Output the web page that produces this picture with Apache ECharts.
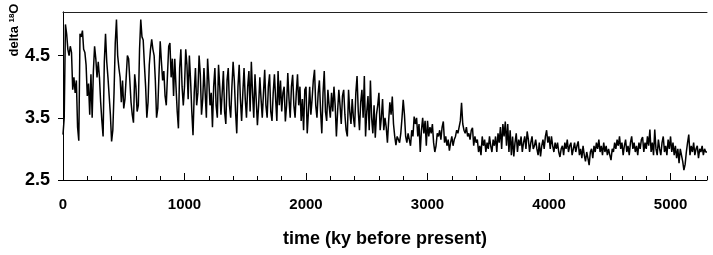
<!DOCTYPE html>
<html><head><meta charset="utf-8">
<script src="https://cdn.jsdelivr.net/npm/echarts@6/dist/echarts.min.js"></script>
<style>html,body{margin:0;padding:0;background:#fff}#c{width:713px;height:255px}</style>
</head><body><div id="c"></div>
<script>
const ageStep = 10;
const d18O_0000 = [3.23,3.5,5.0,4.85,4.6,4.5,4.65,4.55,3.95,4.15,
3.9,4.1,3.35,3.13,4.85,4.8,4.9,4.6,4.55,4.35,
3.85,4.05,3.55,4.2,3.5,4.25,4.65,4.45,4.15,4.4,
4.15,3.75,3.45,3.2,4.4,4.85,4.4,4.15,3.85,3.55,
3.12,3.3,3.9,4.7,5.08,4.5,4.3,4.15,3.75,4.1,
3.65,3.8,4.15,4.5,4.45,4.1,3.75,3.55,3.42,4.2,
4.0,3.6,3.7,4.6,5.08,4.8,4.75,4.35,4.0,3.5,
3.75,4.35,4.6,4.76,4.6,4.5,4.1,3.5,3.65,4.2,
4.73,4.4,4.1,4.25,3.85,3.7,4.2,4.65,4.7,4.15,
4.45,3.85,4.45,4.0,3.6,3.33,4.3,4.6,4.0,3.7];
const d18O_1000 = [4.0,4.6,4.35,3.8,4.5,4.1,3.6,3.22,3.9,4.3,
3.7,3.9,4.5,4.2,3.55,3.8,4.3,3.9,3.5,4.45,
4.1,3.7,3.9,3.35,4.0,4.3,3.7,3.5,4.35,4.0,
3.55,3.9,4.25,3.6,3.4,4.1,4.3,3.7,3.5,4.0,
4.4,4.1,3.6,3.25,4.0,4.35,3.8,3.45,3.9,4.3,
3.8,3.5,4.0,4.25,3.6,4.4,3.9,3.5,4.2,3.8,
3.38,3.7,4.15,3.8,3.5,3.9,4.27,3.7,3.5,4.0,
4.2,3.6,3.45,3.9,4.2,3.8,3.45,4.25,3.7,4.1,
3.6,3.9,4.0,3.44,3.7,4.22,3.8,3.5,4.0,4.19,
3.7,3.5,3.9,4.2,3.7,4.0,3.45,3.8,3.3,3.95];
const d18O_2000 = [4.0,3.25,3.6,4.0,3.55,3.8,4.1,4.27,3.7,3.5,
3.9,4.1,3.6,3.25,3.9,4.25,3.6,3.45,3.95,3.7,
3.5,3.9,3.6,4.0,3.7,3.2,3.6,3.95,3.7,3.4,
3.85,3.95,3.55,3.3,3.2,3.95,3.6,3.4,3.8,3.5,
3.35,3.9,4.17,3.6,3.3,3.75,3.95,3.5,4.17,3.2,
3.6,3.85,3.3,4.1,3.5,3.25,3.7,3.18,3.55,3.7,
3.9,3.3,3.5,3.8,3.3,3.5,3.35,3.1,3.45,3.75,
3.55,3.84,3.4,3.2,3.06,3.2,3.15,3.1,3.25,3.5,
3.79,3.55,3.2,3.1,3.25,3.15,3.05,3.3,3.2,3.52,
3.4,3.5,3.2,3.4,2.95,3.3,3.5,3.25,3.45,3.05];
const d18O_3000 = [3.45,3.2,3.35,3.25,3.4,3.1,2.95,3.05,3.25,3.2,
3.3,3.15,3.35,3.44,3.1,3.2,3.05,3.15,2.97,3.1,
3.2,3.05,3.15,3.2,3.3,3.25,3.35,3.45,3.74,3.4,
3.3,3.25,3.35,3.2,3.25,3.15,3.3,3.34,3.05,3.2,
3.1,3.15,2.95,3.05,2.9,3.2,3.05,3.15,2.95,3.1,
3.0,3.2,3.05,2.95,3.15,3.05,3.2,2.95,3.25,3.1,
3.35,3.0,3.4,3.2,3.44,3.05,3.4,2.95,3.3,2.9,
3.2,2.88,3.1,3.25,2.95,3.15,3.05,3.2,2.95,3.1,
3.2,3.0,3.28,3.15,2.95,3.1,3.2,3.0,3.05,3.15,
3.0,2.9,3.1,2.88,3.05,3.15,3.0,3.2,3.3,3.1];
const d18O_4000 = [3.2,3.0,3.2,3.05,2.95,3.1,3.0,3.1,2.95,2.87,
3.0,3.05,2.9,3.1,3.0,3.15,2.95,3.05,3.1,2.9,
3.0,3.1,2.95,3.05,3.12,2.9,3.0,2.85,3.05,2.9,
2.8,2.95,2.85,2.74,2.95,3.0,2.85,3.05,2.95,3.1,
3.0,3.15,2.95,3.05,2.9,3.1,2.95,3.05,2.9,3.0,
2.9,2.82,3.0,2.95,3.1,3.0,3.15,3.05,3.2,3.0,
3.1,2.9,3.05,3.15,2.95,3.05,2.9,3.1,3.2,3.0,
3.1,2.95,3.05,2.9,3.1,3.0,3.15,3.19,2.95,3.1,
3.0,3.2,3.05,3.31,2.95,3.1,2.9,3.31,3.0,2.9,
3.15,3.0,2.9,3.1,3.2,2.95,3.05,2.9,3.15,3.0];
const d18O_5000 = [3.2,2.95,3.1,2.9,3.05,2.85,3.0,2.77,3.0,2.9,
2.8,2.66,2.75,2.95,3.1,3.23,2.9,3.05,2.95,3.1,
2.9,3.0,3.05,2.85,3.0,2.95,3.05,2.9,3.0,2.95,2.95];

const yTickValues = [2.5, 3.5, 4.5];
const xLabelValues = [0, 1000, 2000, 3000, 4000, 5000];

const d18O = [].concat(d18O_0000, d18O_1000, d18O_2000, d18O_3000, d18O_4000, d18O_5000);
const seriesData = d18O.map((v, i) => [i * ageStep, v]);

const FONT = 'Liberation Sans, Arial, sans-serif';
const X_MIN = 0, X_MAX = 5300, Y_MIN = 2.5, Y_MAX = 5.2;
const chart = echarts.init(document.getElementById('c'), null, {renderer: 'canvas'});
chart.setOption({
  animation: false,
  backgroundColor: '#fff',
  grid: {left: 63, right: 6, top: 12, bottom: 75, show: false},
  xAxis: [{
    type: 'value', min: X_MIN, max: X_MAX, interval: 1000, position: 'bottom',
    axisLine: {show: true, lineStyle: {color: '#000', width: 1}},
    axisTick: {show: true, inside: true, length: 7, customValues: xLabelValues, lineStyle: {color: '#000'}},
    axisLabel: {customValues: xLabelValues, margin: 17, color: '#000', fontFamily: FONT, fontWeight: 'bold', fontSize: 15,
      formatter: v => String(v)},
    splitLine: {show: false},
    name: 'time (ky before present)', nameLocation: 'middle', nameGap: 50,
    nameTextStyle: {color: '#000', fontFamily: FONT, fontWeight: 'bold', fontSize: 18}
  }, {
    type: 'value', min: X_MIN, max: X_MAX, interval: 200, position: 'bottom', gridIndex: 0,
    axisLine: {show: false},
    axisTick: {show: true, inside: true, length: 4, lineStyle: {color: '#000'}},
    axisLabel: {show: false},
    splitLine: {show: false}
  }, {
    type: 'value', min: X_MIN, max: X_MAX, position: 'top', gridIndex: 0,
    axisLine: {show: true, lineStyle: {color: '#222', width: 1}},
    axisTick: {show: false}, axisLabel: {show: false}, splitLine: {show: false}
  }],
  yAxis: [{
    type: 'value', min: Y_MIN, max: Y_MAX, position: 'left',
    axisLine: {show: true, lineStyle: {color: '#888', width: 1}},
    axisTick: {show: true, inside: false, length: 5, customValues: yTickValues, lineStyle: {color: '#000'}},
    axisLabel: {customValues: yTickValues, margin: 13, color: '#000', fontFamily: FONT, fontWeight: 'bold', fontSize: 18,
      formatter: v => v.toFixed(1)},
    splitLine: {show: false}
  }, {
    type: 'value', min: Y_MIN, max: Y_MAX, position: 'right', gridIndex: 0,
    axisLine: {show: true, lineStyle: {color: '#000', width: 1}},
    axisTick: {show: false}, axisLabel: {show: false}, splitLine: {show: false}
  }],
  graphic: [{
    type: 'text', x: 14, y: 30, rotation: Math.PI / 2,
    style: {
      text: '{a|delta }{s|18}{a|O}',
      rich: {
        a: {fontFamily: FONT, fontWeight: 'bold', fontSize: 13, fill: '#000'},
        s: {fontFamily: FONT, fontWeight: 'bold', fontSize: 8, fill: '#000', verticalAlign: 'top'}
      },
      align: 'center', verticalAlign: 'middle'
    }
  }],
  series: [{
    type: 'line', xAxisIndex: 0, yAxisIndex: 0, data: seriesData, showSymbol: false, symbol: 'none',
    lineStyle: {color: '#000', width: 1.5}, z: 3
  }]
});
</script></body></html>
